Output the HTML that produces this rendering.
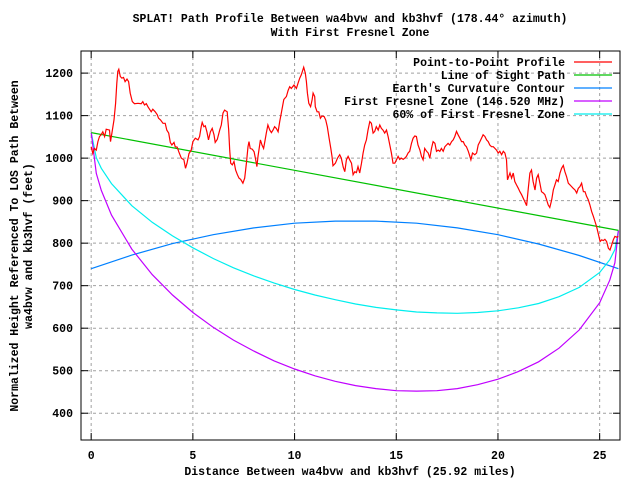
<!DOCTYPE html>
<html><head><meta charset="utf-8"><style>
body{margin:0;background:#fff;}
svg{display:block;font-family:"Liberation Mono","DejaVu Sans Mono",monospace;font-weight:bold;}
</style></head><body>
<svg id="chart" width="640" height="480" viewBox="0 0 640 480">
<rect x="0" y="0" width="640" height="480" fill="#fff"/>
<g id="grid"></g>
<g id="series"></g>
<rect x="81" y="51" width="539" height="389" fill="none" stroke="#000" stroke-width="1"/>
<g id="ticks"></g>
<text x="350" y="22" text-anchor="middle" font-size="11.5">SPLAT! Path Profile Between wa4bvw and kb3hvf (178.44° azimuth)</text>
<text x="350" y="36" text-anchor="middle" font-size="11.5">With First Fresnel Zone</text>
<text x="350" y="475" text-anchor="middle" font-size="11.5">Distance Between wa4bvw and kb3hvf (25.92 miles)</text>
<g transform="translate(18,246) rotate(-90)">
<text x="0" y="0" text-anchor="middle" font-size="11.5">Normalized Height Referenced To LOS Path Between</text>
<text x="0" y="14" text-anchor="middle" font-size="11.5">wa4bvw and kb3hvf (feet)</text>
</g>
<g id="legend"></g>
</svg>
<script>
const xTicks = [0,5,10,15,20,25];
const yTicks = [400,500,600,700,800,900,1000,1100,1200];
const seriesNames = ["Point-to-Point Profile","Line of Sight Path","Earth's Curvature Contour","First Fresnel Zone (146.520 MHz)","60% of First Fresnel Zone"];
const terrainX = [0,0.08,0.16,0.25,0.33,0.41,0.49,0.57,0.66,0.74,0.9,0.95,1.02,1.12,1.2,1.26,1.31,1.36,1.43,1.51,1.59,1.67,1.76,1.84,1.92,2.02,2.13,2.3,2.46,2.54,2.62,2.71,2.79,2.87,2.95,3.03,3.15,3.25,3.31,3.41,3.53,3.64,3.72,3.81,3.89,3.97,4.07,4.13,4.23,4.31,4.43,4.56,4.64,4.71,4.81,4.92,5,5.12,5.25,5.33,5.41,5.46,5.54,5.61,5.69,5.77,5.86,5.95,6.04,6.1,6.2,6.32,6.4,6.48,6.56,6.69,6.76,6.81,6.86,6.94,7.02,7.1,7.19,7.27,7.35,7.46,7.55,7.63,7.71,7.76,7.82,7.92,8.01,8.09,8.15,8.2,8.32,8.4,8.48,8.53,8.61,8.69,8.78,8.86,8.94,9.02,9.1,9.19,9.27,9.35,9.47,9.6,9.68,9.76,9.84,9.97,10.09,10.17,10.25,10.33,10.45,10.53,10.58,10.63,10.7,10.79,10.86,10.91,10.99,11.02,11.11,11.19,11.27,11.35,11.45,11.53,11.61,11.7,11.78,11.84,11.89,12.01,12.11,12.22,12.3,12.39,12.47,12.55,12.63,12.71,12.8,12.88,12.96,13.04,13.12,13.2,13.29,13.37,13.45,13.53,13.61,13.7,13.78,13.86,13.94,14.02,14.11,14.19,14.27,14.35,14.43,14.52,14.6,14.68,14.76,14.84,14.93,15.01,15.09,15.17,15.25,15.34,15.42,15.5,15.58,15.66,15.75,15.83,15.91,15.99,16.07,16.16,16.24,16.32,16.4,16.49,16.57,16.65,16.73,16.81,16.9,16.98,17.06,17.14,17.22,17.31,17.39,17.47,17.55,17.63,17.72,17.8,17.88,17.96,18.04,18.13,18.21,18.29,18.37,18.45,18.54,18.62,18.67,18.75,18.86,18.95,19.03,19.11,19.19,19.27,19.36,19.44,19.52,19.6,19.68,19.77,19.85,19.93,20.01,20.09,20.18,20.26,20.34,20.42,20.47,20.59,20.67,20.75,20.83,20.91,21,21.08,21.16,21.24,21.32,21.41,21.49,21.57,21.65,21.73,21.82,21.9,21.98,22.06,22.14,22.23,22.31,22.39,22.47,22.55,22.64,22.72,22.8,22.88,22.96,23.05,23.13,23.21,23.29,23.37,23.46,23.54,23.62,23.7,23.79,23.87,23.95,24.03,24.11,24.2,24.28,24.36,24.44,24.52,24.61,24.69,24.77,24.85,24.93,25.02,25.1,25.18,25.26,25.34,25.43,25.51,25.59,25.67,25.75,25.84,25.92];
const terrainY = [1027,1011,1023,1019,1039,1051,1055,1062,1051,1068,1066,1039,1059,1090,1129,1176,1204,1209,1192,1188,1190,1180,1186,1180,1153,1133,1128,1129,1128,1133,1125,1128,1121,1115,1109,1115,1109,1102,1094,1090,1082,1082,1066,1059,1037,1031,1037,1027,1026,1015,1000,996,976,988,1011,1019,1039,1047,1043,1051,1074,1084,1074,1076,1062,1043,1062,1070,1055,1037,1044,1066,1078,1106,1113,1109,1066,1019,988,984,992,972,961,953,950,941,953,988,1027,1039,1023,1021,1015,996,980,1004,1043,1031,1023,1037,1059,1078,1066,1060,1066,1074,1070,1062,1086,1106,1138,1145,1159,1168,1164,1172,1164,1176,1188,1196,1214,1200,1180,1153,1129,1121,1137,1153,1145,1121,1109,1109,1094,1099,1098,1090,1074,1047,1023,1004,982,988,1000,1008,1000,979,968,996,1004,996,988,961,968,966,980,965,988,1012,1031,1043,1066,1086,1082,1059,1063,1074,1066,1078,1070,1066,1059,1066,1051,1031,1012,988,988,996,1004,997,1000,997,1000,1004,1012,1016,1035,1047,1052,1051,1031,1019,1004,996,1023,1016,1012,1000,1023,1039,1035,1016,1019,1016,1023,1016,1027,1031,1035,1031,1039,1043,1051,1063,1055,1047,1039,1039,1031,1027,1016,1004,996,1012,1008,1012,1031,1039,1047,1055,1051,1043,1039,1031,1027,1027,1023,1019,1012,1016,1008,1016,1012,996,949,965,953,965,945,937,929,921,914,906,898,888,929,965,972,945,925,953,961,941,921,918,914,902,890,884,902,925,937,949,945,965,976,983,968,957,941,937,933,929,925,918,929,933,941,921,921,910,902,890,874,863,851,839,823,804,808,806,809,804,788,784,796,808,816,814,816];
const losX = [0,25.92];
const losY = [1060,830];
const curveX = [0,2,4,6,8,10,12,14,16,18,20,22,24,25.92];
const curveY = [740,772,799,820,836,847,852,852,847,836,820,798,771,740];
const fresX = [0,0.25,0.5,1,2,3,4,5,6,7,8,9,10,11,12,13,14,15,16,17,18,19,20,21,22,23,24,25,25.5,25.75,25.92];
const fresY = [1060,964,924,866,786,726,678,637,602,572,546,523,504,488,475,465,458,453,452,453,458,467,480,498,521,553,596,660,713,754,830];
const fres60Y = [1060,1001,976,940,888,849,817,789,764,742,723,706,691,678,667,657,649,643,638,636,635,637,641,648,658,674,696,731,761,785,830];
const colors = ["#ff0000","#00c000","#0080ff","#c000ff","#00eeee"];

const X0=-0.5,X1=26,Y0=337,Y1=1252,PL=81,PR=620,PT=51,PB=440;
const sx=v=>PL+(v-X0)/(X1-X0)*(PR-PL);
const sy=v=>PB-(v-Y0)/(Y1-Y0)*(PB-PT);
const NS="http://www.w3.org/2000/svg";
function mk(tag,attrs,parent){const e=document.createElementNS(NS,tag);for(const k in attrs)e.setAttribute(k,attrs[k]);parent.appendChild(e);return e;}
const grid=document.getElementById('grid'),ticks=document.getElementById('ticks'),ser=document.getElementById('series'),leg=document.getElementById('legend');
xTicks.forEach(t=>{const x=sx(t);
 const g=mk('line',{x1:x,x2:x,y1:PT,y2:PB,stroke:'#a0a0a0','stroke-dasharray':'3,3'},grid);
 
 
 mk('line',{x1:x,x2:x,y1:PB,y2:PB-7,stroke:'#000'},ticks);
 mk('line',{x1:x,x2:x,y1:PT,y2:PT+7,stroke:'#000'},ticks);
 const l=mk('text',{x:x,y:459,'text-anchor':'middle','font-size':'11.5'},ticks);l.textContent=t;
 
 
});
yTicks.forEach(t=>{const y=sy(t);
 const g=mk('line',{x1:PL,x2:PR,y1:y,y2:y,stroke:'#a0a0a0','stroke-dasharray':'3,3'},grid);
 
 
 mk('line',{x1:PL,x2:PL+7,y1:y,y2:y,stroke:'#000'},ticks);
 mk('line',{x1:PR,x2:PR-7,y1:y,y2:y,stroke:'#000'},ticks);
 const l=mk('text',{x:73,y:y+4,'text-anchor':'end','font-size':'11.5'},ticks);l.textContent=t;
 
 
});
function line(xs,ys,c,name){const p=mk('polyline',{points:xs.map((x,i)=>sx(x).toFixed(1)+','+sy(ys[i]).toFixed(1)).join(' '),fill:'none',stroke:c,'stroke-width':1.2},ser);
 
 }
line(curveX,curveY,colors[2],'earth-curvature-line');
line(fresX,fres60Y,colors[4],'fresnel-60-line');
line(fresX,fresY,colors[3],'fresnel-zone-line');
line(losX,losY,colors[1],'line-of-sight');
line(terrainX,terrainY,colors[0],'terrain-profile-line');
seriesNames.forEach((n,i)=>{const y=62+i*13;
 const t=mk('text',{x:565,y:y+4,'text-anchor':'end','font-size':'11.5'},leg);t.textContent=n;
 
 
 const l=mk('line',{x1:574,x2:612,y1:y,y2:y,stroke:colors[i],'stroke-width':1.2},leg);
 
 
});
</script>
</body></html>
